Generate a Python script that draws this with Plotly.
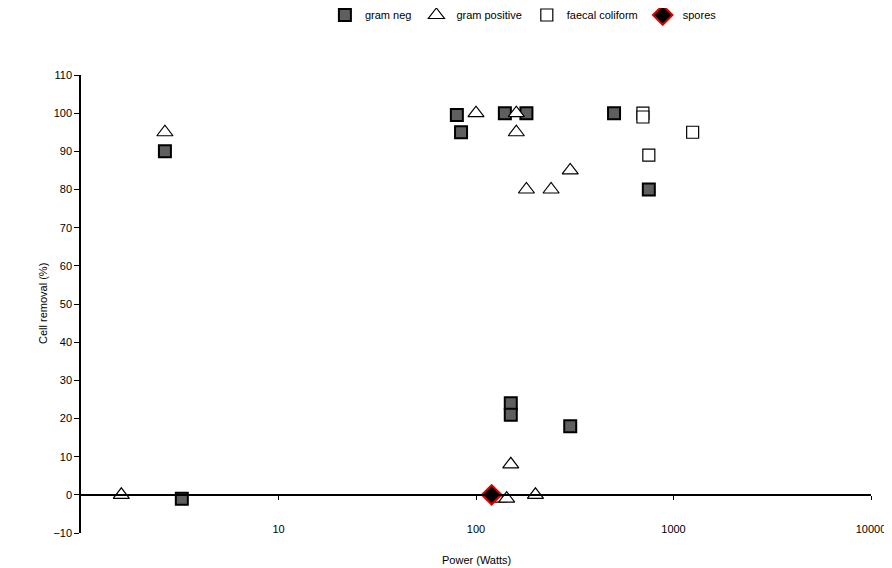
import plotly.graph_objects as go

# Data
gram_neg_x = [2.66, 3.24, 80, 84, 140, 180, 150, 150, 300, 500, 750]
gram_neg_y = [90, -1, 99.5, 95, 100, 100, 24, 21, 18, 100, 80]

gram_pos_x = [1.6, 2.66, 100, 160, 160, 180, 240, 300, 150, 130, 143, 200]
gram_pos_y = [0, 95, 100, 100, 95, 80, 80, 85, 8, -1, -1, 0]

faecal_x = [700, 700, 1250, 750]
faecal_y = [100, 99, 95, 89]

spores_x = [120]
spores_y = [0]

x_tick_vals = [10, 100, 1000, 10000]
x_tick_text = ["10", "100", "1000", "10000"]
y_tick_vals = list(range(-10, 111, 10))

FONT = "Liberation Sans, Arial, sans-serif"
FS = 11

fig = go.Figure()
fig.add_trace(go.Scatter(
    x=gram_neg_x, y=gram_neg_y, mode="markers", name="gram neg",
    marker=dict(symbol="square", size=12, color="#5f5f5f",
                line=dict(color="black", width=2))))
fig.add_trace(go.Scatter(
    x=gram_pos_x, y=gram_pos_y, mode="markers", name="gram positive",
    marker=dict(symbol="triangle-up", size=14, color="white",
                line=dict(color="black", width=1.2))))
fig.add_trace(go.Scatter(
    x=faecal_x, y=faecal_y, mode="markers", name="faecal coliform",
    marker=dict(symbol="square", size=12, color="white",
                line=dict(color="black", width=1.2))))
fig.add_trace(go.Scatter(
    x=spores_x, y=spores_y, mode="markers", name="spores",
    marker=dict(symbol="diamond", size=15, color="black",
                line=dict(color="#e00000", width=2))))

# page body adds an 8px offset, so the figure is sized to fill the rest
fig.update_layout(
    width=884, height=560,
    margin=dict(l=73, r=21, t=67, b=35, autoexpand=False),
    paper_bgcolor="white", plot_bgcolor="white",
    font=dict(family=FONT, size=FS, color="black"),
    showlegend=True,
    legend=dict(orientation="h", x=0.56, xanchor="center",
                y=1.131, yanchor="middle",
                font=dict(family=FONT, size=FS, color="black"),
                itemwidth=30, tracegroupgap=0),
    xaxis=dict(type="log", range=[0, 4], anchor="free", position=10 / 120,
               showline=True, linecolor="black", linewidth=1.5,
               ticks="outside", ticklen=4, tickcolor="black", tickwidth=1.2,
               tickvals=x_tick_vals, ticktext=x_tick_text,
               ticklabelstandoff=20,
               showgrid=False, zeroline=False,
               tickfont=dict(family=FONT, size=FS, color="black")),
    yaxis=dict(range=[-10, 110], showline=True, linecolor="black",
               linewidth=1.5, ticks="outside", ticklen=5, tickcolor="black",
               tickwidth=1.2, tickvals=y_tick_vals,
               showgrid=False, zeroline=False,
               tickfont=dict(family=FONT, size=FS, color="black")),
    annotations=[
        dict(text="Power (Watts)", xref="paper", yref="paper",
             x=0.5, y=-27 / 458, xanchor="center", yanchor="middle",
             showarrow=False, font=dict(family=FONT, size=FS, color="black")),
        dict(text="Cell removal (%)", xref="paper", yref="paper",
             x=-38 / 790, y=0.5, xanchor="center", yanchor="middle",
             textangle=-90, showarrow=False,
             font=dict(family=FONT, size=FS, color="black")),
    ],
)

fig.write_html("out.html")
